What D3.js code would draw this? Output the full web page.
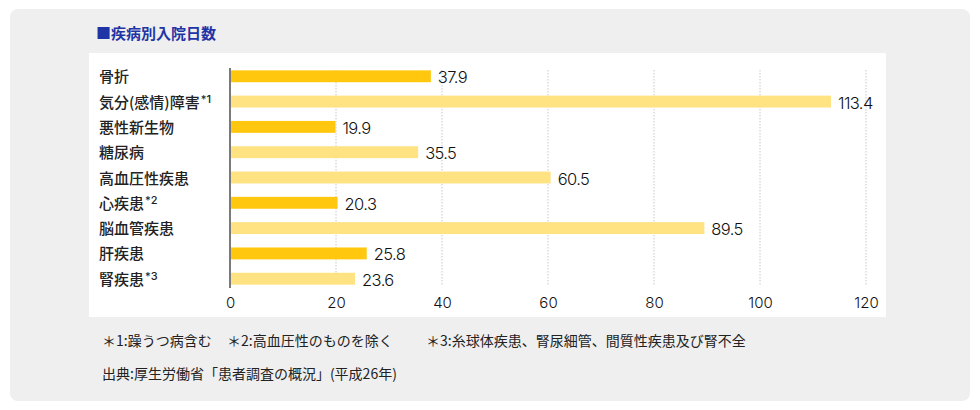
<!DOCTYPE html>
<html>
<head>
<meta charset="utf-8">
<script src="https://cdn.jsdelivr.net/npm/d3@7"></script>
<style>
body { margin: 0; background: #fff; font-family: "Noto Sans CJK JP", "Noto Sans", sans-serif; }
</style>
</head>
<body>
<svg id="chart"></svg>
<script>
// data
const diseases = ["骨折", "気分(感情)障害", "悪性新生物", "糖尿病", "高血圧性疾患", "心疾患", "脳血管疾患", "肝疾患", "腎疾患"];
const noteMarks = ["", "*1", "", "", "", "*2", "", "", "*3"];
const days = [37.9, 113.4, 19.9, 35.5, 60.5, 20.3, 89.5, 25.8, 23.6];
const darkBar = [1, 0, 1, 0, 0, 1, 0, 1, 0];
const xTicks = [0, 20, 40, 60, 80, 100, 120];
const notes = ["＊1:躁うつ病含む", "＊2:高血圧性のものを除く", "＊3:糸球体疾患、腎尿細管、間質性疾患及び腎不全"];
const source = "出典:厚生労働省「患者調査の概況」(平成26年)";

const W = 980, H = 410;
const svg = d3.select("#chart").attr("width", W).attr("height", H);

// outer gray panel + inner white panel
svg.append("rect").attr("x", 10).attr("y", 9).attr("width", 960).attr("height", 392)
    .attr("rx", 8).attr("fill", "#efefef");
svg.append("rect").attr("x", 89).attr("y", 53).attr("width", 797).attr("height", 264)
    .attr("fill", "#fff");

// title
svg.append("text").attr("x", 96).attr("y", 39)
    .attr("font-size", 15).attr("font-weight", "bold").attr("fill", "#1f35a5")
    .text("■疾病別入院日数");

const x = d3.scaleLinear().domain([0, 120]).range([230, 866]);
const y = d3.scaleBand().domain(diseases).range([63.5, 291.5]).paddingInner(0.53).paddingOuter(0.27);

// dotted grid lines
svg.selectAll(".grid")
    .data(xTicks.filter(t => t > 0))
    .enter().append("line")
    .attr("class", "grid")
    .attr("x1", d => x(d)).attr("x2", d => x(d))
    .attr("y1", 70).attr("y2", 285)
    .attr("stroke", "#c8c8c8").attr("stroke-width", 1).attr("stroke-dasharray", "1.5,1.5");

// bars
svg.selectAll(".bar")
    .data(days)
    .enter().append("rect")
    .attr("class", "bar")
    .attr("x", x(0))
    .attr("y", (d, i) => y(diseases[i]))
    .attr("width", d => x(d) - x(0))
    .attr("height", y.bandwidth())
    .attr("fill", (d, i) => darkBar[i] ? "#ffc80f" : "#ffe281");

// value labels
svg.selectAll(".val")
    .data(days)
    .enter().append("text")
    .attr("class", "val")
    .attr("x", d => x(d) + 7)
    .attr("y", (d, i) => y(diseases[i]) + y.bandwidth() / 2 + 7)
    .attr("font-size", 16.5).attr("font-weight", 300).attr("fill", "#111")
    .attr("font-family", "Inter, Roboto, sans-serif")
    .attr("letter-spacing", -0.6)
    .text(d => d.toFixed(1));

// category labels
const lab = svg.selectAll(".cat")
    .data(diseases)
    .enter().append("text")
    .attr("class", "cat")
    .attr("x", 99)
    .attr("y", d => y(d) + y.bandwidth() / 2 + 6)
    .attr("font-size", 15).attr("font-weight", 500).attr("fill", "#222");
lab.append("tspan").text(d => d);
lab.append("tspan")
    .attr("font-size", 11).attr("dy", -5).attr("dx", 1)
    .attr("font-family", "Inter, Roboto, sans-serif")
    .text((d, i) => noteMarks[i]);

// y axis line
svg.append("line").attr("x1", x(0)).attr("x2", x(0)).attr("y1", 68).attr("y2", 288)
    .attr("stroke", "#7a7a7a").attr("stroke-width", 2);

// x axis tick labels
const xAxis = d3.axisBottom(x).tickValues(xTicks).tickSize(0).tickPadding(0);
const gx = svg.append("g").attr("transform", "translate(0,297)").call(xAxis);
gx.select(".domain").remove();
gx.selectAll("text").attr("font-size", 15).attr("font-weight", 300).attr("fill", "#111")
    .attr("font-family", "Inter, Roboto, sans-serif").attr("dy", "0.75em");

// footnotes
const noteX = [102, 227, 426];
svg.selectAll(".note")
    .data(notes)
    .enter().append("text")
    .attr("class", "note")
    .attr("x", (d, i) => noteX[i]).attr("y", 346)
    .attr("font-size", 14).attr("fill", "#222")
    .text(d => d);
svg.append("text").attr("x", 102).attr("y", 379)
    .attr("font-size", 14).attr("fill", "#222")
    .text(source);
</script>
</body>
</html>
